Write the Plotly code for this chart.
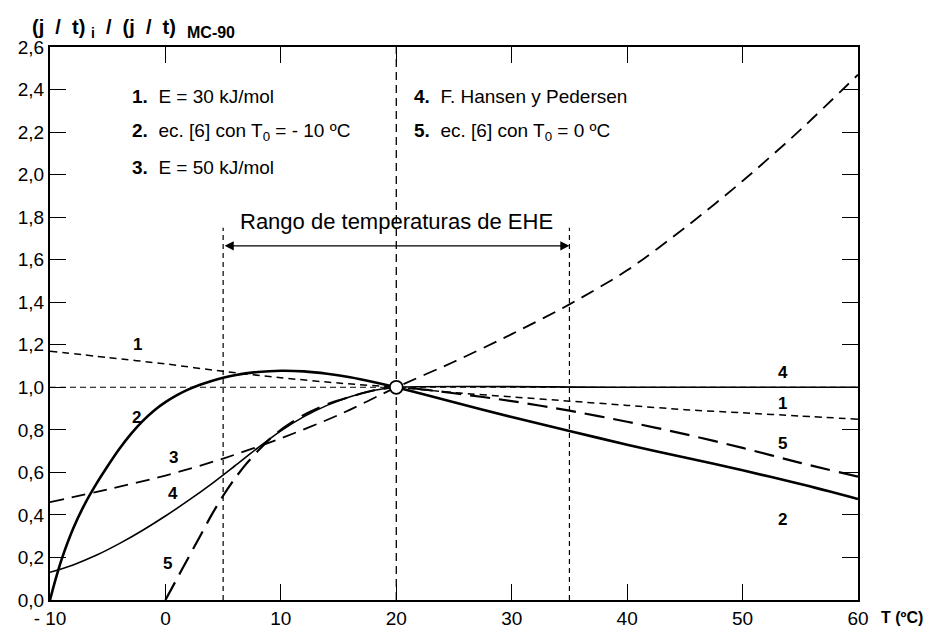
import plotly.graph_objects as go

# ---- data ----
t1 = [-10, -5, 0, 5, 10, 15, 20, 25, 30, 35, 40, 45, 50, 55, 60]
c1 = [1.17, 1.14, 1.11, 1.075, 1.045, 1.02, 1.0, 0.975, 0.955, 0.935, 0.915, 0.895, 0.88, 0.865, 0.85]

t2 = [-10, -9.5, -9, -8, -7, -6, -5, -4, -3, -2, -1, 0, 1, 2, 3, 4, 5, 6, 8, 10, 12, 14, 16, 18, 20,
      25, 30, 35, 40, 45, 50, 55, 60]
c2 = [0.0, 0.1, 0.19, 0.335, 0.45, 0.545, 0.63, 0.71, 0.78, 0.84, 0.89, 0.93, 0.963, 0.99, 1.012,
      1.03, 1.045, 1.057, 1.072, 1.078, 1.075, 1.064, 1.047, 1.025, 1.0,
      0.93, 0.86, 0.795, 0.73, 0.67, 0.61, 0.545, 0.475]

t3 = [-10, -5, 0, 5, 10, 15, 20, 25, 30, 35, 40, 45, 50, 55, 60]
c3 = [0.46, 0.52, 0.585, 0.665, 0.76, 0.87, 1.0, 1.12, 1.25, 1.39, 1.55, 1.75, 1.97, 2.21, 2.47]

t4 = [-10, -8, -6, -4, -2, 0, 2, 4, 6, 8, 10, 12, 14, 16, 18, 20, 40, 60]
c4 = [0.13, 0.165, 0.21, 0.265, 0.327, 0.395, 0.468, 0.546, 0.63, 0.715, 0.795, 0.862, 0.915, 0.956, 0.985, 1.0, 1.0, 1.0]

t5 = [0, 1, 2, 3, 4, 5, 6, 7, 8, 9, 10, 12, 14, 16, 18, 20, 25, 30, 35, 40, 45, 50, 55, 60]
c5 = [0.0, 0.1, 0.2, 0.3, 0.4, 0.49, 0.57, 0.64, 0.70, 0.755, 0.80, 0.87, 0.92, 0.955, 0.985, 1.0,
      0.972, 0.935, 0.89, 0.838, 0.78, 0.715, 0.645, 0.58]

ref_T = [20]
ref_v = [1.0]
range_T = [5, 35]          # Rango de temperaturas de EHE
range_top = 1.75

x_ticks = [-10, 0, 10, 20, 30, 40, 50, 60]
x_labels = ["- 10", "0", "10", "20", "30", "40", "50", "60"]
y_ticks = [0.0, 0.2, 0.4, 0.6, 0.8, 1.0, 1.2, 1.4, 1.6, 1.8, 2.0, 2.2, 2.4, 2.6]
y_labels = ["0,0", "0,2", "0,4", "0,6", "0,8", "1,0", "1,2", "1,4", "1,6", "1,8", "2,0", "2,2", "2,4", "2,6"]

FONT = "Liberation Sans, Arial, sans-serif"
fig = go.Figure()

# reference guide lines
fig.add_trace(go.Scatter(x=[-10, 60], y=[1.0, 1.0], mode="lines",
                         line=dict(color="black", width=1.1, dash="6px,4px"), hoverinfo="skip"))
fig.add_trace(go.Scatter(x=[20, 20], y=[0, 2.6], mode="lines",
                         line=dict(color="black", width=1.3, dash="8px,5px"), hoverinfo="skip"))
for xv in range_T:
    fig.add_trace(go.Scatter(x=[xv, xv], y=[0, range_top], mode="lines",
                             line=dict(color="black", width=1.2, dash="5px,4px"), hoverinfo="skip"))

# curves
sp = dict(shape="spline", smoothing=0.8)
fig.add_trace(go.Scatter(x=t1, y=c1, mode="lines", line=dict(color="black", width=1.5, dash="7px,5px", **sp)))
fig.add_trace(go.Scatter(x=t2, y=c2, mode="lines", line=dict(color="black", width=2.6, **sp)))
fig.add_trace(go.Scatter(x=t3, y=c3, mode="lines", line=dict(color="black", width=1.8, dash="14px,8px", **sp)))
fig.add_trace(go.Scatter(x=t4, y=c4, mode="lines", line=dict(color="black", width=1.6, **sp)))
fig.add_trace(go.Scatter(x=t5, y=c5, mode="lines", line=dict(color="black", width=2.2, dash="20px,9px", **sp)))

fig.add_trace(go.Scatter(x=ref_T, y=ref_v, mode="markers",
                         marker=dict(size=13, color="white", line=dict(color="black", width=1.8))))

ann = []
def lab(x, y, txt, size=17, bold=True, xanchor="center"):
    ann.append(dict(x=x, y=y, xref="x", yref="y", text=(f"<b>{txt}</b>" if bold else txt),
                    showarrow=False, font=dict(family=FONT, size=size, color="black"), xanchor=xanchor))

# curve numbers
lab(-2.4, 1.20, "1"); lab(-2.5, 0.86, "2"); lab(0.66, 0.67, "3"); lab(0.66, 0.50, "4"); lab(0.2, 0.17, "5")
lab(53.5, 1.07, "4"); lab(53.5, 0.925, "1"); lab(53.5, 0.735, "5"); lab(53.5, 0.38, "2")

# legend text
leg = [(-3.1, 2.365, "<b>1.</b>  E = 30 kJ/mol"),
       (-3.1, 2.2, "<b>2.</b>  ec. [6] con T<sub>0</sub> = - 10 ºC"),
       (-3.1, 2.035, "<b>3.</b>  E = 50 kJ/mol"),
       (21.4, 2.365, "<b>4.</b>  F. Hansen y Pedersen"),
       (21.4, 2.2, "<b>5.</b>  ec. [6] con T<sub>0</sub> = 0 ºC")]
for x, y, t in leg:
    lab(x, y, t, size=19, bold=False, xanchor="left")

lab(20, 1.78, "Rango de temperaturas de EHE", size=22, bold=False)

# double arrow
ann.append(dict(x=35, y=1.665, ax=5, ay=1.665, xref="x", yref="y", axref="x", ayref="y",
                text="", showarrow=True, arrowhead=2, startarrowhead=2, arrowside="end+start",
                arrowsize=1.3, arrowwidth=1.4, arrowcolor="black"))

# axis titles
ytitle = ("<b>(j&nbsp;&nbsp;/&nbsp;&nbsp;t)&nbsp;<sub>i</sub>&nbsp;&nbsp;/&nbsp;&nbsp;(j&nbsp;&nbsp;/&nbsp;&nbsp;t)&nbsp;&nbsp;"
          "<sub><span style='font-size:16px'>MC-90</span></sub></b>")
ann.append(dict(x=0, y=1, xref="paper", yref="paper", xanchor="left", yanchor="bottom", xshift=-20, yshift=4,
                text=ytitle, showarrow=False, font=dict(family=FONT, size=20, color="black")))
ann.append(dict(x=1, y=0, xref="paper", yref="paper", xanchor="left", yanchor="top", xshift=21, yshift=-7,
                text="<b>T (ºC)</b>", showarrow=False, font=dict(family=FONT, size=16, color="black")))

fig.update_layout(
    width=925, height=629, margin=dict(l=50, r=67, t=47, b=29),
    paper_bgcolor="white", plot_bgcolor="white", showlegend=False,
    font=dict(family=FONT, size=19, color="black"),
    annotations=ann,
)
fig.update_xaxes(range=[-10, 60], tickvals=x_ticks, ticktext=x_labels, showgrid=False, zeroline=False,
                 showline=True, linecolor="black", linewidth=2, mirror="ticks", ticks="inside",
                 ticklen=16, tickwidth=1.3, tickcolor="black", tickfont=dict(size=19), automargin=False)
fig.update_yaxes(range=[0, 2.6], tickvals=y_ticks, ticktext=y_labels, showgrid=False, zeroline=False,
                 showline=True, linecolor="black", linewidth=2, mirror="ticks", ticks="inside",
                 ticklen=16, tickwidth=1.3, tickcolor="black", tickfont=dict(size=19), automargin=False)

fig.write_html("out.html", config={"displayModeBar": False},
               post_script="document.body.style.margin='0';document.body.style.overflow='hidden';")
